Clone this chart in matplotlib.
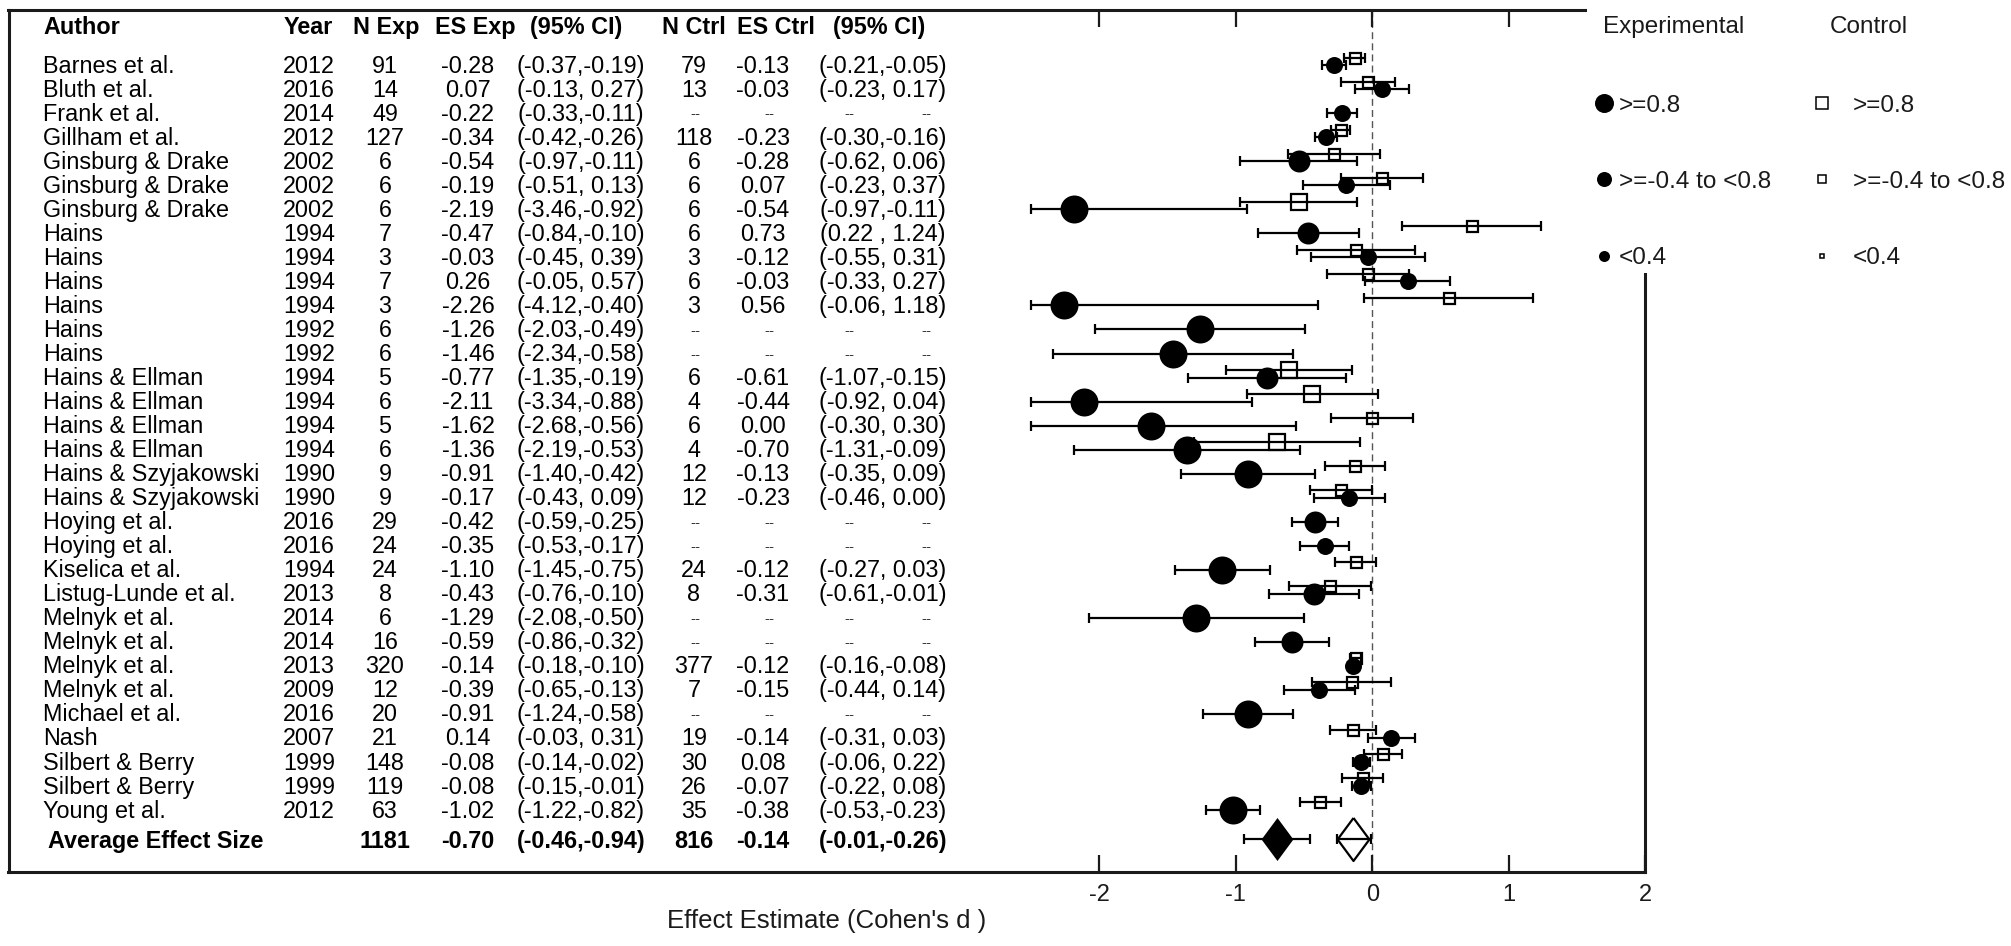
import numpy as np
import matplotlib
matplotlib.use("Agg")
import matplotlib.pyplot as plt
from matplotlib.lines import Line2D
from matplotlib.patches import Rectangle

plt.rcParams["font.family"] = ["Liberation Sans", "DejaVu Sans"]

# ---- data ----
authors = ["Barnes et al.", "Bluth et al.", "Frank et al.", "Gillham et al.",
           "Ginsburg & Drake", "Ginsburg & Drake", "Ginsburg & Drake",
           "Hains", "Hains", "Hains", "Hains", "Hains", "Hains",
           "Hains & Ellman", "Hains & Ellman", "Hains & Ellman", "Hains & Ellman",
           "Hains & Szyjakowski", "Hains & Szyjakowski",
           "Hoying et al.", "Hoying et al.", "Kiselica et al.", "Listug-Lunde et al.",
           "Melnyk et al.", "Melnyk et al.", "Melnyk et al.", "Melnyk et al.",
           "Michael et al.", "Nash", "Silbert & Berry", "Silbert & Berry", "Young et al."]
years = [2012, 2016, 2014, 2012, 2002, 2002, 2002, 1994, 1994, 1994, 1994, 1992, 1992,
         1994, 1994, 1994, 1994, 1990, 1990, 2016, 2016, 1994, 2013, 2014, 2014, 2013,
         2009, 2016, 2007, 1999, 1999, 2012]

n_exp = [91, 14, 49, 127, 6, 6, 6, 7, 3, 7, 3, 6, 6, 5, 6, 5, 6, 9, 9, 29, 24, 24, 8,
         6, 16, 320, 12, 20, 21, 148, 119, 63]
es_exp = [-0.28, 0.07, -0.22, -0.34, -0.54, -0.19, -2.19, -0.47, -0.03, 0.26, -2.26,
          -1.26, -1.46, -0.77, -2.11, -1.62, -1.36, -0.91, -0.17, -0.42, -0.35, -1.10,
          -0.43, -1.29, -0.59, -0.14, -0.39, -0.91, 0.14, -0.08, -0.08, -1.02]
lo_exp = [-0.37, -0.13, -0.33, -0.42, -0.97, -0.51, -3.46, -0.84, -0.45, -0.05, -4.12,
          -2.03, -2.34, -1.35, -3.34, -2.68, -2.19, -1.40, -0.43, -0.59, -0.53, -1.45,
          -0.76, -2.08, -0.86, -0.18, -0.65, -1.24, -0.03, -0.14, -0.15, -1.22]
hi_exp = [-0.19, 0.27, -0.11, -0.26, -0.11, 0.13, -0.92, -0.10, 0.39, 0.57, -0.40,
          -0.49, -0.58, -0.19, -0.88, -0.56, -0.53, -0.42, 0.09, -0.25, -0.17, -0.75,
          -0.10, -0.50, -0.32, -0.10, -0.13, -0.58, 0.31, -0.02, -0.01, -0.82]

nan = np.nan
n_ctrl = [79, 13, None, 118, 6, 6, 6, 6, 3, 6, 3, None, None, 6, 4, 6, 4, 12, 12,
          None, None, 24, 8, None, None, 377, 7, None, 19, 30, 26, 35]
es_ctrl = [-0.13, -0.03, nan, -0.23, -0.28, 0.07, -0.54, 0.73, -0.12, -0.03, 0.56,
           nan, nan, -0.61, -0.44, 0.00, -0.70, -0.13, -0.23, nan, nan, -0.12, -0.31,
           nan, nan, -0.12, -0.15, nan, -0.14, 0.08, -0.07, -0.38]
lo_ctrl = [-0.21, -0.23, nan, -0.30, -0.62, -0.23, -0.97, 0.22, -0.55, -0.33, -0.06,
           nan, nan, -1.07, -0.92, -0.30, -1.31, -0.35, -0.46, nan, nan, -0.27, -0.61,
           nan, nan, -0.16, -0.44, nan, -0.31, -0.06, -0.22, -0.53]
hi_ctrl = [-0.05, 0.17, nan, -0.16, 0.06, 0.37, -0.11, 1.24, 0.31, 0.27, 1.18,
           nan, nan, -0.15, 0.04, 0.30, -0.09, 0.09, 0.00, nan, nan, 0.03, -0.01,
           nan, nan, -0.08, 0.14, nan, 0.03, 0.22, 0.08, -0.23]

# pooled estimates (bottom row)
avg_n = [1181, 816]
avg_es = [-0.70, -0.14]
avg_lo = [-0.94, -0.26]
avg_hi = [-0.46, -0.01]

size_labels = [">=0.8", ">=-0.4 to <0.8", "<0.4"]
headers = ["Author", "Year", "N Exp", "ES Exp", "(95% CI)", "N Ctrl", "ES Ctrl", "(95% CI)"]
xticks = [-2, -1, 0, 1, 2]
CLIP = -2.5   # bars are cut off at the left edge of the plot region


def pt(px):
    return px * 72 / 100.0


def size_class(v):
    m = -v
    if m >= 0.8:
        return 0
    if m >= 0.4:
        return 1
    return 2


def ci_text(lo, hi):
    return "({:.2f}{},{}{:.2f})".format(lo, " " if lo >= 0 else "",
                                        " " if hi >= 0 else "", hi)


W, H = 2011, 946
L, R, T, B = 8.5, 1645, 10, 872

fig = plt.figure(figsize=(W / 100, H / 100), dpi=100)
ax = fig.add_axes([L / W, 1 - B / H, (R - L) / W, (B - T) / H])

n = len(authors)
rows = np.arange(n)
ctrl_rows = rows - 0.33
avg_row = n + 0.23

es_e = np.array(es_exp)
lo_e = np.maximum(np.array(lo_exp), CLIP)
hi_e = np.array(hi_exp)
es_c = np.array(es_ctrl)
lo_c = np.maximum(np.array(lo_ctrl), CLIP)
hi_c = np.array(hi_ctrl)

ax.axvline(0, color="#555555", lw=1.0, ls=(0, (5, 3)), zorder=1)

bar_kw = dict(fmt="none", ecolor="black", elinewidth=1.6, capsize=3.5, capthick=1.6, zorder=2)
ax.errorbar(es_e, rows, xerr=[es_e - lo_e, hi_e - es_e], **bar_kw)
ok = ~np.isnan(es_c)
ax.errorbar(es_c[ok], ctrl_rows[ok], xerr=[es_c[ok] - lo_c[ok], hi_c[ok] - es_c[ok]], **bar_kw)

circle_px = [28, 22, 17]
square_px = [20, 16, 11]
cls_e = np.array([size_class(v) for v in es_e])
cls_c = np.array([size_class(v) if not np.isnan(v) else -1 for v in es_c])
for k in range(3):
    m = cls_e == k
    ax.plot(es_e[m], rows[m], "o", ls="none", color="black", ms=pt(circle_px[k]),
            mew=0, zorder=3)
    m = cls_c == k
    ax.plot(es_c[m], ctrl_rows[m], "s", ls="none", mfc="none", mec="black",
            ms=pt(square_px[k]), mew=1.6, zorder=4)

# average effect size diamonds
diamond = [(0, 1), (0.74, 0), (0, -1), (-0.74, 0), (0, 1)]
avg_es_a = np.array(avg_es)
ax.errorbar(avg_es_a, [avg_row, avg_row],
            xerr=[avg_es_a - np.array(avg_lo), np.array(avg_hi) - avg_es_a], **bar_kw)
ax.plot(avg_es[0], avg_row, marker=diamond, ls="none", color="black", ms=pt(43), mew=0, zorder=3)
ax.plot(avg_es[1], avg_row, marker=diamond, ls="none", mfc="none", mec="black",
        ms=pt(43), mew=1.6, zorder=4)

ax.set_xlim(-10, 2)
ax.set_ylim(n + 1.6, -2.31)
ax.set_xticks(xticks)
ax.set_xticklabels([str(t) for t in xticks])
ax.set_yticks([])
ax.tick_params(axis="x", direction="in", length=12.2, width=1.6, top=True,
               labelsize=17, pad=8.5, colors="#1a1a1a")
for s in ax.spines.values():
    s.set_linewidth(2.2)
    s.set_color("#1a1a1a")
ax.set_xlabel("Effect Estimate (Cohen's d )", fontsize=18.5, labelpad=2, color="#1a1a1a")

# ---- table on the left ----
tr = ax.get_yaxis_transform()


def fx(px):
    return (px - L) / (R - L)


FS = 16.8
base = 0.33
head_y = -1.3
head_x = [43, 308.5, 386, 475.5, 576.5, 693.5, 776, 879]
for i, h in enumerate(headers):
    ax.text(fx(head_x[i]), head_y, h, transform=tr, fontsize=FS, fontweight="bold",
            ha="left" if i == 0 else "center", va="baseline")

col = dict(year=309, nexp=385, esexp=468, ciexp=581, nctrl=694, esctrl=763, cictrl=883)
dash_x = [695, 769, 849, 926]
for i in range(n):
    y = rows[i] + base
    ax.text(fx(43), y, authors[i], transform=tr, fontsize=FS, ha="left", va="baseline")
    ax.text(fx(col["year"]), y, str(years[i]), transform=tr, fontsize=FS, ha="center", va="baseline")
    ax.text(fx(col["nexp"]), y, str(n_exp[i]), transform=tr, fontsize=FS, ha="center", va="baseline")
    ax.text(fx(col["esexp"]), y, "{:.2f}".format(es_exp[i]), transform=tr, fontsize=FS,
            ha="center", va="baseline")
    ax.text(fx(col["ciexp"]), y, ci_text(lo_exp[i], hi_exp[i]), transform=tr, fontsize=FS,
            ha="center", va="baseline")
    if n_ctrl[i] is None:
        for dx in dash_x:
            ax.text(fx(dx), y - 0.12, "--", transform=tr, fontsize=11, ha="center",
                    va="baseline", color="#333333")
    else:
        ax.text(fx(col["nctrl"]), y, str(n_ctrl[i]), transform=tr, fontsize=FS,
                ha="center", va="baseline")
        ax.text(fx(col["esctrl"]), y, "{:.2f}".format(es_ctrl[i]), transform=tr, fontsize=FS,
                ha="center", va="baseline")
        ax.text(fx(col["cictrl"]), y, ci_text(lo_ctrl[i], hi_ctrl[i]), transform=tr,
                fontsize=FS, ha="center", va="baseline")

y = avg_row + base + 0.05
ax.text(fx(48), y, "Average Effect Size", transform=tr, fontsize=FS, fontweight="bold",
        ha="left", va="baseline")
avg_cells = [(col["nexp"], str(avg_n[0])), (col["esexp"], "{:.2f}".format(avg_es[0])),
             (col["ciexp"], "({:.2f},{:.2f})".format(avg_hi[0], avg_lo[0])),
             (col["nctrl"], str(avg_n[1])), (col["esctrl"], "{:.2f}".format(avg_es[1])),
             (col["cictrl"], "({:.2f},{:.2f})".format(avg_hi[1], avg_lo[1]))]
for px, s in avg_cells:
    ax.text(fx(px), y, s, transform=tr, fontsize=FS, fontweight="bold", ha="center",
            va="baseline")

# ---- legend (covers the top-right corner of the frame) ----
fig.patches.append(Rectangle((1587 / W, 1 - 273 / H), 1 - 1587 / W, 273 / H,
                             transform=fig.transFigure, facecolor="white",
                             edgecolor="none", zorder=2))

LFS = 17.5
leg_circle = [19, 15, 11]
leg_square = [13, 10, 6]
exp_h = [Line2D([], [], marker="o", ls="none", color="black", ms=pt(s), mew=0)
         for s in leg_circle]
ctrl_h = [Line2D([], [], marker="s", ls="none", mfc="none", mec="black", ms=pt(s - 1.5),
                 mew=1.1) for s in leg_square]
leg_kw = dict(loc="upper left", frameon=False, borderpad=0, borderaxespad=0,
              fontsize=LFS, labelspacing=2.24, handlelength=0.5, labelcolor="#1a1a1a")
fig.legend(exp_h, size_labels, bbox_to_anchor=(1597.9 / W, 1 - 94.5 / H),
           handletextpad=0.37, **leg_kw)
fig.legend(ctrl_h, size_labels, bbox_to_anchor=(1815.9 / W, 1 - 94.5 / H),
           handletextpad=1.03, **leg_kw)
fig.text(1603 / W, 1 - 33 / H, "Experimental", fontsize=LFS, va="baseline", color="#1a1a1a")
fig.text(1830 / W, 1 - 33 / H, "Control", fontsize=LFS, va="baseline", color="#1a1a1a")

fig.savefig("out.png", dpi=100)
